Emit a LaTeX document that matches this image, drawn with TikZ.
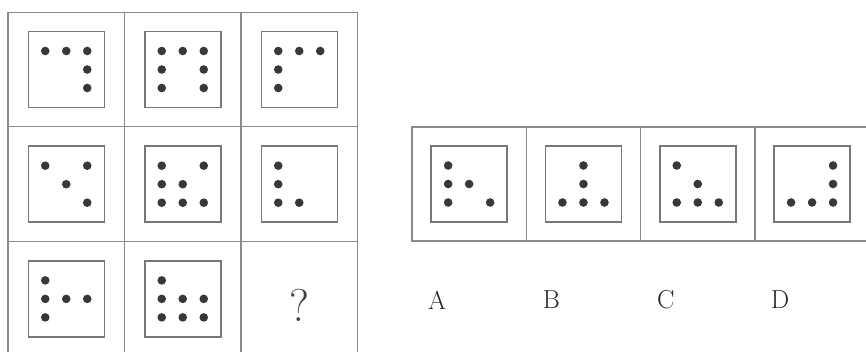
\documentclass[tikz,border=0pt]{standalone}
\usepackage{tikz}
\usetikzlibrary{positioning}

\definecolor{gridgray}{HTML}{8A8A8A}
\definecolor{framegray}{HTML}{777777}
\definecolor{pipgray}{HTML}{383838}

\tikzset{
  cell/.style={draw=gridgray, line width=1.2pt, outer sep=0pt, inner sep=0pt,
               minimum width=116.5pt, minimum height=114.7pt},
  optcell/.style={cell, minimum width=114.3pt, minimum height=114pt},
  frame/.style={draw=framegray, line width=1.5pt, inner sep=0pt,
                minimum size=76pt},
  pip/.style={fill=pipgray},
  optlabel/.style={font=\fontsize{26}{26}\selectfont, text=black!85}
}

% dots on a 3x3 raster inside a frame node
\newcommand{\pips}[2]{%
  \foreach \i/\j in {#2}
    \fill[pip] ([shift={(\i*21-21,\j*18.5-18.5)}]#1.center) circle (4.3);}

\begin{document}
\begin{tikzpicture}[x=1pt, y=-1pt]
  \useasboundingbox (0,0) rectangle (866,352);

  % question grid
  \node[cell]                    (g11) at (66.25,69.5) {};
  \node[cell, right=0pt of g11]  (g12) {};
  \node[cell, right=0pt of g12]  (g13) {};
  \node[cell, below=0pt of g11]  (g21) {};
  \node[cell, right=0pt of g21]  (g22) {};
  \node[cell, right=0pt of g22]  (g23) {};
  \node[cell, below=0pt of g21]  (g31) {};
  \node[cell, right=0pt of g31]  (g32) {};
  \node[cell, right=0pt of g32]  (g33) {};

  \foreach \n in {11,12,13,21,22,23,31,32}
    \node[frame] (f\n) at (g\n) {};

  \node[font=\fontsize{46}{46}\selectfont, text=black!75] (q) at ([yshift=-6]g33) {?};

  \pips{f11}{0/0,1/0,2/0,2/1,2/2}
  \pips{f12}{0/0,1/0,2/0,0/1,2/1,0/2,2/2}
  \pips{f13}{0/0,1/0,2/0,0/1,0/2}
  \pips{f21}{0/0,2/0,1/1,2/2}
  \pips{f22}{0/0,2/0,0/1,1/1,0/2,1/2,2/2}
  \pips{f23}{0/0,0/1,0/2,1/2}
  \pips{f31}{0/0,0/1,1/1,2/1,0/2}
  \pips{f32}{0/0,0/1,1/1,2/1,0/2,1/2,2/2}

  % answer row
  \node[optcell]                   (oA) at (469.15,184) {};
  \node[optcell, right=0pt of oA]  (oB) {};
  \node[optcell, right=0pt of oB]  (oC) {};
  \node[optcell, right=0pt of oC]  (oD) {};

  \foreach \n in {A,B,C,D}
    \node[frame] (f\n) at (o\n) {};

  \pips{fA}{0/0,0/1,1/1,0/2,2/2}
  \pips{fB}{1/0,1/1,0/2,1/2,2/2}
  \pips{fC}{0/0,1/1,0/2,1/2,2/2}
  \pips{fD}{2/0,2/1,0/2,1/2,2/2}

  \foreach \n in {A,B,C,D}
    \node[optlabel] (l\n) at ([xshift=-32, yshift=-116]o\n) {\n};
\end{tikzpicture}
\end{document}
